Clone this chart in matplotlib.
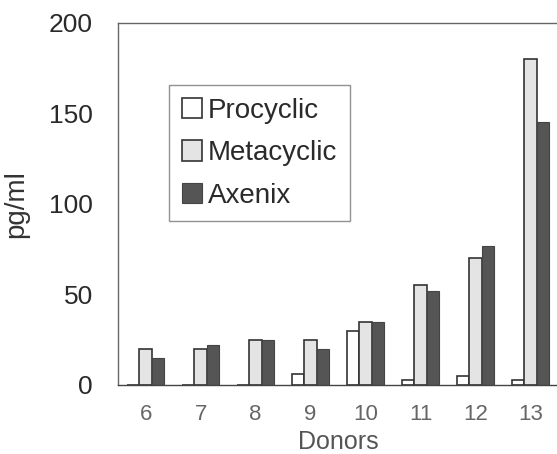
import numpy as np
import matplotlib
matplotlib.use("Agg")
import matplotlib.pyplot as plt

# Values (pg/ml per donor).
donors = ["6", "7", "8", "9", "10", "11", "12", "13"]
procyclic = [0, 0, 0, 6, 30, 3, 5, 3]
metacyclic = [20, 20, 25, 25, 35, 55, 70, 180]
axenix = [15, 22, 25, 20, 35, 52, 77, 145]

plt.rcParams["font.family"] = ["Liberation Sans", "DejaVu Sans"]

fig = plt.figure(figsize=(5.57, 4.54), dpi=100)
ax = fig.add_axes([0.212, 0.152, 0.79, 0.798])

x = np.arange(len(donors))
w = 0.225
ax.bar(x - w, procyclic, w, color="white", edgecolor="#333333", linewidth=1.2, label="Procyclic")
ax.bar(x, metacyclic, w, color="#e4e4e4", edgecolor="#333333", linewidth=1.2, label="Metacyclic")
ax.bar(x + w, axenix, w, color="#555555", edgecolor="#444444", linewidth=0.8, label="Axenix")

ax.set_xlim(-0.5, len(donors) - 0.5)
ax.set_ylim(0, 200)
ax.set_yticks([0, 50, 100, 150, 200])
ax.set_xticks(x)
ax.set_xticklabels(donors)
ax.tick_params(axis="y", length=0, pad=18, labelsize=19, labelcolor="#2a2a2a")
ax.tick_params(axis="x", length=0, pad=14, labelsize=16, labelcolor="#666666")

for s in ax.spines.values():
    s.set_color("#666666")
    s.set_linewidth(1.0)
ax.spines["bottom"].set_color("#444444")

ax.set_ylabel("pg/ml", fontsize=20, color="#333333", labelpad=14)
ax.set_xlabel("Donors", fontsize=18, color="#555555", labelpad=3)

ax.legend(loc="upper left", bbox_to_anchor=(0.116, 0.828), borderaxespad=0,
          fontsize=20, frameon=True, fancybox=False, edgecolor="#777777",
          handlelength=0.75, handleheight=0.75, handletextpad=0.2,
          labelspacing=0.6, borderpad=0.45, labelcolor="#2a2a2a")

fig.savefig("out.png", dpi=100)
